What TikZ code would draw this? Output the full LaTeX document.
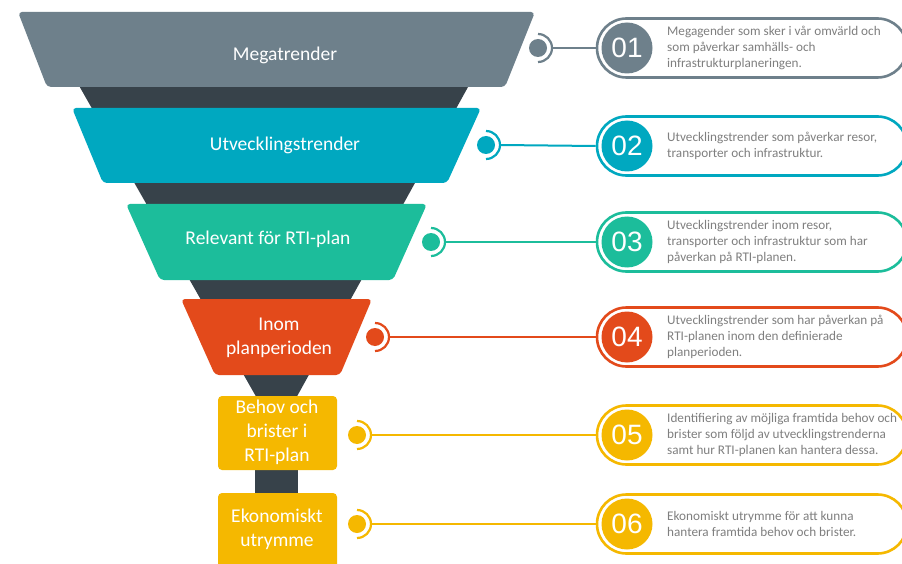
\documentclass[tikz,border=0pt]{standalone}
\usepackage{fontspec}
\setmainfont{Carlito}
\newfontfamily\numfont{Liberation Sans}
\usetikzlibrary{shapes.misc}
\definecolor{cgrey}{HTML}{6E808B}
\definecolor{cteal}{HTML}{00A8C0}
\definecolor{cgreen}{HTML}{1CBD9B}
\definecolor{corange}{HTML}{E34A1B}
\definecolor{cyellow}{HTML}{F5B800}
\definecolor{cdark}{HTML}{37424A}
\definecolor{ctext}{HTML}{7F7F7F}
\begin{document}
\begin{tikzpicture}[x=1pt,y=-1pt,
  layerlabel/.style={text=white,font=\fontsize{19.5}{24}\selectfont,align=center,inner sep=0pt},
  dot/.style={circle,fill=#1,minimum size=18pt,inner sep=0pt},
  ring/.style={draw=#1,line width=2.2pt},
  link/.style={draw=#1,line width=2pt},
  pill/.style={rounded rectangle,draw=#1,line width=2.6pt,minimum width=310pt,minimum height=59pt,inner sep=0pt},
  badge/.style={circle,fill=#1,minimum size=51pt,inner sep=0pt,text=white,font=\numfont\fontsize{28}{30}\selectfont},
  desc/.style={anchor=west,align=left,text=ctext,inner sep=0pt,font=\fontsize{13.2}{16}\selectfont}]
\useasboundingbox (0,0) rectangle (902,564);
\clip (0,0) rectangle (902,564);
\fill[white] (0,0) rectangle (902,564);

% dark funnel body and stem behind the layers
\fill[cdark] (53,40) -- (494,40) -- (295,400) -- (258,400) -- cycle;
\fill[cdark] (255,465) rectangle (298,498);

% funnel layers
\fill[cgrey,rounded corners=4] (18,12) -- (535,12) -- (505,87) -- (47,87) -- cycle;
\fill[cteal,rounded corners=4] (72,108) -- (481,108) -- (447,183) -- (103,183) -- cycle;
\fill[cgreen,rounded corners=4] (126,204) -- (427,204) -- (393,280) -- (160,280) -- cycle;
\fill[corange,rounded corners=4] (181,299) -- (372,299) -- (340,375) -- (215,375) -- cycle;
\fill[cyellow,rounded corners=4] (218,396) rectangle (337,470);
\fill[cyellow,rounded corners=4] (218,493) rectangle (337,572);

\node[layerlabel] (l1) at (285,55) {Megatrender};
\node[layerlabel] (l2) at (285,145) {Utvecklingstrender};
\node[layerlabel] (l3) at (268,239) {Relevant för RTI-plan};
\node[layerlabel] (l4) at (279,338) {Inom\\planperioden};
\node[layerlabel] (l5) at (277,432) {Behov och\\brister i\\RTI-plan};
\node[layerlabel] (l6) at (277,529) {Ekonomiskt\\utrymme};

% dots beside the layers
\node[dot=cgrey]   (d1) at (538,48)  {};
\node[dot=cteal]   (d2) at (486,145) {};
\node[dot=cgreen]  (d3) at (431,242) {};
\node[dot=corange] (d4) at (375,337) {};
\node[dot=cyellow] (d5) at (357,435) {};
\node[dot=cyellow] (d6) at (357,524) {};

% outlined pills with numbered badges
\node[pill=cgrey]   (p1) at (752,48)  {};
\node[pill=cteal]   (p2) at (752,146) {};
\node[pill=cgreen]  (p3) at (752,242) {};
\node[pill=corange] (p4) at (752,337) {};
\node[pill=cyellow] (p5) at (752,435) {};
\node[pill=cyellow] (p6) at (752,524) {};

\node[badge=cgrey]   (b1) at (627,48)  {01};
\node[badge=cteal]   (b2) at (627,146) {02};
\node[badge=cgreen]  (b3) at (627,242) {03};
\node[badge=corange] (b4) at (627,337) {04};
\node[badge=cyellow] (b5) at (627,435) {05};
\node[badge=cyellow] (b6) at (627,524) {06};

% rings and connectors
\foreach \i/\c in {1/cgrey,2/cteal,3/cgreen,4/corange,5/cyellow,6/cyellow}{
  \draw[ring=\c] (d\i.center) ++(0,-14) arc[start angle=-90,end angle=90,radius=14];
  \draw[link=\c] ([xshift=14pt]d\i.center) -- (p\i.west);
}

% descriptions
\node[desc] (t1) at (667,48) {Megagender som sker i vår omvärld och\\som påverkar samhälls- och\\infrastrukturplaneringen.};
\node[desc] (t2) at (667,146) {Utvecklingstrender som påverkar resor,\\transporter och infrastruktur.};
\node[desc] (t3) at (667,242) {Utvecklingstrender inom resor,\\transporter och infrastruktur som har\\påverkan på RTI-planen.};
\node[desc] (t4) at (667,337) {Utvecklingstrender som har påverkan på\\RTI-planen inom den definierade\\planperioden.};
\node[desc] (t5) at (667,435) {Identifiering av möjliga framtida behov och\\brister som följd av utvecklingstrenderna\\samt hur RTI-planen kan hantera dessa.};
\node[desc] (t6) at (667,524) {Ekonomiskt utrymme för att kunna\\hantera framtida behov och brister.};
\end{tikzpicture}
\end{document}
